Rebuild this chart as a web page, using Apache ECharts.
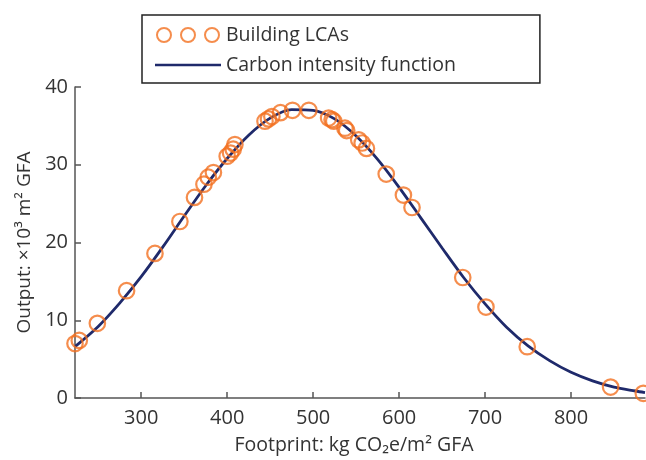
<!DOCTYPE html>
<html>
<head>
<meta charset="utf-8">
<script src="https://cdn.jsdelivr.net/npm/echarts@6/dist/echarts.min.js"></script>
<style>
  html, body { margin: 0; padding: 0; background: #fff; }
  #chart { width: 646px; height: 460px; }
</style>
</head>
<body>
<div id="chart"></div>
<script>
// building LCA points
const lcaX = [223, 228, 249, 283, 316, 345, 362, 373, 378, 384, 400, 404, 407, 409, 444, 448, 452, 462, 476, 495,
  518, 522, 524, 537, 539, 553, 557, 562, 585, 605, 615, 674, 701, 749, 846, 884];
const lcaY = [7.0, 7.4, 9.6, 13.8, 18.6, 22.7, 25.8, 27.5, 28.4, 29.0, 31.1, 31.5, 32.0, 32.6, 35.6, 35.9, 36.2, 36.7, 37.0, 37.0,
  36.0, 35.8, 35.6, 34.7, 34.4, 33.2, 32.8, 32.1, 28.8, 26.1, 24.5, 15.5, 11.7, 6.6, 1.4, 0.6];

// carbon intensity curve
const curveX = [223, 250, 275, 300, 325, 350, 375, 400, 425, 450, 475, 500, 525, 550, 575, 600, 625, 650, 675, 700,
  725, 750, 775, 800, 825, 850, 875, 886];
const curveY = [6.6, 9.2, 12.2, 15.6, 19.4, 23.4, 27.3, 30.8, 33.8, 36.0, 37.1, 37.0, 35.9, 33.7, 30.7, 27.1, 23.2, 19.3, 15.5, 12.1,
  9.1, 6.7, 4.8, 3.3, 2.2, 1.4, 0.9, 0.7];

const xTicks = [300, 400, 500, 600, 700, 800];

const orange = '#f37021';
const navy = '#1f2a6b';
const font = "'Open Sans', 'Noto Sans', sans-serif";

const chart = echarts.init(document.getElementById('chart'));

const threeCircles = 'path://M0,7a7,7 0 1,0 14,0a7,7 0 1,0 -14,0z' +
  'M24,7a7,7 0 1,0 14,0a7,7 0 1,0 -14,0z' +
  'M48,7a7,7 0 1,0 14,0a7,7 0 1,0 -14,0z';
const flatLine = 'path://M0,0H66V2.6H0Z';

const option = {
  animation: false,
  textStyle: { fontFamily: font },
  grid: { left: 75, right: 1, top: 87, bottom: 60.5 },
  legend: {
    orient: 'vertical',
    left: 142,
    top: 15,
    padding: [10, 84, 8, 13],
    borderColor: '#222',
    borderWidth: 1.5,
    itemWidth: 66,
    itemHeight: 14,
    itemGap: 10,
    symbolKeepAspect: true,
    textStyle: { fontSize: 19.5, color: '#333', fontFamily: font },
    data: [
      { name: 'Building LCAs', icon: threeCircles,
        itemStyle: { color: 'rgba(0,0,0,0)', borderColor: orange, borderWidth: 2 } },
      { name: 'Carbon intensity function', icon: flatLine,
        itemStyle: { color: navy, borderWidth: 0 } }
    ]
  },
  xAxis: {
    type: 'value',
    min: 223,
    max: 886,
    name: 'Footprint: kg CO₂e/m² GFA',
    nameLocation: 'middle',
    nameGap: 37,
    nameTextStyle: { fontSize: 19.5, color: '#333', fontFamily: font, padding: [0, 12, 0, 0] },
    axisLine: { show: true, onZero: false, lineStyle: { color: '#555', width: 1.5 } },
    axisTick: { show: true, inside: true, length: 6, customValues: xTicks, lineStyle: { color: '#555', width: 1.5 } },
    axisLabel: { fontSize: 20, color: '#333', margin: 10, customValues: xTicks, fontFamily: font },
    splitLine: { show: false }
  },
  yAxis: {
    type: 'value',
    min: 0,
    max: 40,
    interval: 10,
    name: 'Output: ×10³ m² GFA',
    nameLocation: 'middle',
    nameGap: 38,
    nameTextStyle: { fontSize: 19, color: '#333', fontFamily: font },
    axisLine: { show: true, onZero: false, lineStyle: { color: '#555', width: 1.5 } },
    axisTick: { show: true, inside: true, length: 6, lineStyle: { color: '#555', width: 1.5 } },
    axisLabel: { fontSize: 20, color: '#333', margin: 7, fontFamily: font },
    splitLine: { show: false }
  },
  series: [
    {
      name: 'Carbon intensity function',
      type: 'line',
      smooth: 0.3,
      symbol: 'none',
      data: curveX.map((x, i) => [x, curveY[i]]),
      lineStyle: { color: navy, width: 2.8 },
      itemStyle: { color: navy },
      z: 2
    },
    {
      name: 'Building LCAs',
      type: 'scatter',
      symbol: 'circle',
      symbolSize: 15.5,
      clip: false,
      data: lcaX.map((x, i) => [x, lcaY[i]]),
      itemStyle: { color: 'rgba(0,0,0,0)', borderColor: orange, borderWidth: 2.2 },
      z: 3
    }
  ]
};

chart.setOption(option);
</script>
</body>
</html>
